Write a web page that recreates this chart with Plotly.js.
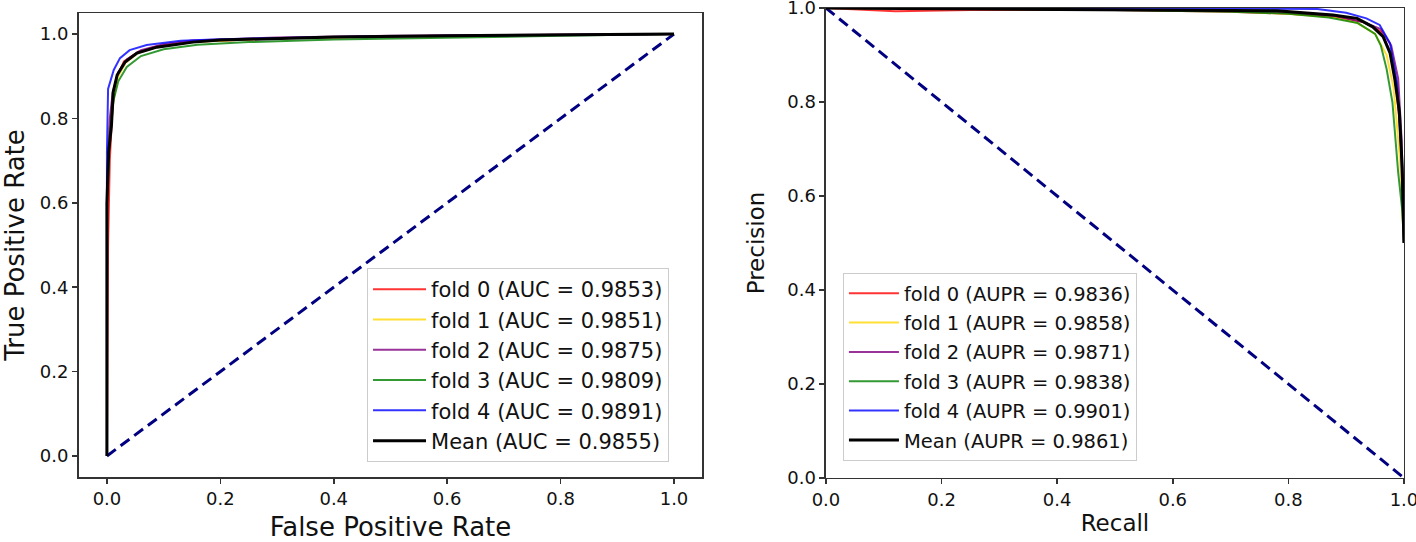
<!DOCTYPE html>
<html>
<head>
<meta charset="utf-8">
<script src="https://cdn.plot.ly/plotly-3.0.1.min.js"></script>
<style>html,body{margin:0;padding:0;background:#fff}#chart{width:1416px;height:542px}</style>
</head>
<body>
<div id="chart"></div>
<script>
// ---------- data ----------
const foldNames = ["fold 0", "fold 1", "fold 2", "fold 3", "fold 4", "Mean"];
const foldColors = ["rgba(255,0,0,0.8)", "rgba(255,215,0,0.8)", "rgba(128,0,128,0.8)", "rgba(0,128,0,0.8)", "rgba(0,0,255,0.8)", "#000000"];
const rocAuc = ["0.9853", "0.9851", "0.9875", "0.9809", "0.9891", "0.9855"];
const prAupr = ["0.9836", "0.9858", "0.9871", "0.9838", "0.9901", "0.9861"];
const tickVals = [0, 0.2, 0.4, 0.6, 0.8, 1];
const tickText = ["0.0", "0.2", "0.4", "0.6", "0.8", "1.0"];

// ROC curves (FPR, TPR)
const rocFpr0 = [0, 0.002, 0.005, 0.01, 0.018, 0.03, 0.055, 0.09, 0.15, 0.3, 0.5, 0.75, 1];
const rocTpr0 = [0, 0.5, 0.7, 0.83, 0.9, 0.935, 0.958, 0.972, 0.982, 0.99, 0.995, 0.998, 1];
const rocFpr1 = [0, 0, 0.005, 0.01, 0.02, 0.033, 0.055, 0.09, 0.15, 0.3, 0.5, 0.75, 1];
const rocTpr1 = [0, 0.6, 0.78, 0.85, 0.9, 0.932, 0.955, 0.97, 0.981, 0.99, 0.994, 0.998, 1];
const rocFpr2 = [0, 0, 0.005, 0.01, 0.02, 0.035, 0.06, 0.1, 0.15, 0.3, 0.5, 0.75, 1];
const rocTpr2 = [0, 0.65, 0.8, 0.86, 0.91, 0.94, 0.962, 0.976, 0.985, 0.992, 0.996, 0.998, 1];
const rocFpr3 = [0, 0, 0.005, 0.012, 0.02, 0.035, 0.06, 0.1, 0.16, 0.25, 0.4, 0.6, 0.8, 1];
const rocTpr3 = [0, 0.6, 0.76, 0.845, 0.888, 0.922, 0.948, 0.964, 0.975, 0.981, 0.987, 0.992, 0.996, 1];
const rocFpr4 = [0, 0, 0.002, 0.008, 0.012, 0.023, 0.04, 0.07, 0.13, 0.2, 0.4, 0.6, 0.8, 1];
const rocTpr4 = [0, 0.72, 0.87, 0.9, 0.915, 0.943, 0.962, 0.974, 0.984, 0.988, 0.993, 0.996, 0.998, 1];
const rocFprMean = [0, 0, 0.003, 0.008, 0.011, 0.018, 0.032, 0.053, 0.088, 0.152, 0.2, 0.4, 0.6, 0.8, 1];
const rocTprMean = [0, 0.6, 0.72, 0.784, 0.863, 0.903, 0.934, 0.955, 0.969, 0.981, 0.986, 0.993, 0.996, 0.998, 1];

// PR curves (Recall, Precision)
const prRec0 = [0, 0.05, 0.12, 0.25, 0.5, 0.7, 0.8, 0.88, 0.93, 0.96, 0.975, 0.985, 0.993, 0.998, 1];
const prPre0 = [1, 0.997, 0.993, 0.996, 0.996, 0.992, 0.988, 0.982, 0.97, 0.95, 0.91, 0.85, 0.75, 0.62, 0.5];
const prRec1 = [0, 0.5, 0.7, 0.8, 0.88, 0.92, 0.95, 0.97, 0.982, 0.993, 1];
const prPre1 = [1, 0.997, 0.993, 0.988, 0.98, 0.968, 0.945, 0.9, 0.83, 0.68, 0.5];
const prRec2 = [0, 0.5, 0.7, 0.8, 0.88, 0.93, 0.96, 0.978, 0.99, 0.996, 1];
const prPre2 = [1, 0.997, 0.993, 0.99, 0.983, 0.97, 0.955, 0.92, 0.85, 0.72, 0.5];
const prRec3 = [0, 0.3, 0.5, 0.7, 0.8, 0.87, 0.92, 0.95, 0.96, 0.97, 0.98, 0.99, 0.997, 1];
const prPre3 = [1, 0.998, 0.996, 0.992, 0.988, 0.98, 0.968, 0.945, 0.92, 0.87, 0.8, 0.65, 0.57, 0.5];
const prRec4 = [0, 0.5, 0.85, 0.9, 0.935, 0.958, 0.976, 0.988, 0.995, 1];
const prPre4 = [1, 1, 0.998, 0.99, 0.978, 0.964, 0.925, 0.84, 0.7, 0.5];
const prRecMean = [0, 0.3, 0.56, 0.78, 0.877, 0.919, 0.946, 0.964, 0.976, 0.984, 0.992, 0.997, 1];
const prPreMean = [1, 0.998, 0.997, 0.994, 0.985, 0.978, 0.96, 0.939, 0.904, 0.85, 0.78, 0.66, 0.5];

// chance lines
const rocChanceX = [0, 1];
const rocChanceY = [0, 1];
const prChanceX = [0, 1];
const prChanceY = [1, 0];

// ---------- build traces ----------
const rocX = [rocFpr0, rocFpr1, rocFpr2, rocFpr3, rocFpr4, rocFprMean];
const rocY = [rocTpr0, rocTpr1, rocTpr2, rocTpr3, rocTpr4, rocTprMean];
const prX = [prRec0, prRec1, prRec2, prRec3, prRec4, prRecMean];
const prY = [prPre0, prPre1, prPre2, prPre3, prPre4, prPreMean];

const FONT = "DejaVu Sans, sans-serif";
const traces = [];
traces.push({x: rocChanceX, y: rocChanceY, xaxis: "x", yaxis: "y", mode: "lines",
  line: {color: "#000080", width: 3, dash: "11px,6px"}, showlegend: false, hoverinfo: "skip"});
traces.push({x: prChanceX, y: prChanceY, xaxis: "x2", yaxis: "y2", mode: "lines",
  line: {color: "#000080", width: 3, dash: "11px,6px"}, showlegend: false, hoverinfo: "skip"});
for (let i = 0; i < 6; i++) {
  traces.push({x: rocX[i], y: rocY[i], xaxis: "x", yaxis: "y", mode: "lines",
    name: foldNames[i] + " (AUC = " + rocAuc[i] + ")", legend: "legend", legendgroup: "r" + i,
    line: {color: foldColors[i], width: i === 5 ? 3 : 2}});
}
for (let i = 0; i < 6; i++) {
  traces.push({x: prX[i], y: prY[i], xaxis: "x2", yaxis: "y2", mode: "lines",
    name: foldNames[i] + " (AUPR = " + prAupr[i] + ")", legend: "legend2", legendgroup: "p" + i,
    line: {color: foldColors[i], width: i === 5 ? 3 : 2}});
}

const axisCommon = {
  showline: true, mirror: true, linecolor: "#333", linewidth: 1.5,
  ticks: "outside", ticklen: 5, tickwidth: 1.5, tickcolor: "#333",
  showgrid: false, zeroline: false, tickmode: "array", tickvals: tickVals, ticktext: tickText,
  ticklabeloverflow: "allow",
  tickfont: {family: FONT, size: 18, color: "#111"}
};

const layout = {
  width: 1416, height: 542,
  margin: {l: 0, r: 0, t: 0, b: 0},
  paper_bgcolor: "#fff", plot_bgcolor: "#fff",
  xaxis: Object.assign({}, axisCommon, {domain: [0.0555, 0.4960], range: [-0.05, 1.05],
    anchor: "y", title: {text: "False Positive Rate", font: {family: FONT, size: 26, color: "#111"}, standoff: 12}}),
  yaxis: Object.assign({}, axisCommon, {domain: [0.1199, 0.976], range: [-0.05, 1.05],
    anchor: "x", title: {text: "True Positive Rate", font: {family: FONT, size: 26, color: "#111"}, standoff: 14}}),
  xaxis2: Object.assign({}, axisCommon, {domain: [0.5833, 0.9915], range: [0, 1],
    anchor: "y2", title: {text: "Recall", font: {family: FONT, size: 23, color: "#111"}, standoff: 6}}),
  yaxis2: Object.assign({}, axisCommon, {domain: [0.1181, 0.9852], range: [0, 1],
    anchor: "x2", title: {text: "Precision", font: {family: FONT, size: 23, color: "#111"}, standoff: 16}}),
  legend: {
    font: {family: FONT, size: 21, color: "#111"},
    bgcolor: "rgba(255,255,255,0.9)", bordercolor: "#cccccc", borderwidth: 1,
    xanchor: "left", yanchor: "top", traceorder: "grouped", tracegroupgap: 0, itemwidth: 53,
    x: 0.2592, y: 0.5055
  },
  legend2: {
    font: {family: FONT, size: 19.5, color: "#111"},
    bgcolor: "rgba(255,255,255,0.9)", bordercolor: "#cccccc", borderwidth: 1,
    xanchor: "left", yanchor: "top", traceorder: "grouped", tracegroupgap: 1, itemwidth: 50,
    x: 0.5953, y: 0.4963
  },
  showlegend: true
};

Plotly.newPlot("chart", traces, layout, {staticPlot: true, displayModeBar: false});
</script>
</body>
</html>
